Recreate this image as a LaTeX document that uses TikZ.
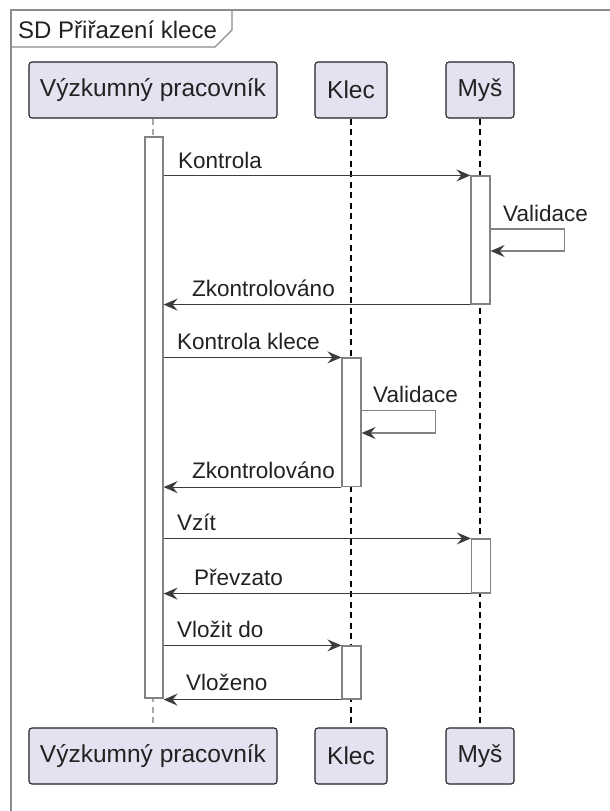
\documentclass[tikz,border=0pt]{standalone}
\usepackage{fontspec}
\setmainfont{Liberation Sans}
\usetikzlibrary{arrows.meta}
\definecolor{partfill}{RGB}{226,226,240}
\definecolor{txt}{RGB}{34,34,34}
\definecolor{msgline}{RGB}{60,60,60}
\definecolor{actline}{RGB}{130,130,130}
\definecolor{framecol}{RGB}{140,140,140}
\tikzset{
  part/.style={draw=txt, fill=partfill, rounded corners=3pt, line width=1.1pt,
    minimum height=56pt, inner sep=0pt, text=txt, font=\fontsize{24.5}{28}\selectfont},
  actbar/.style={draw=actline, fill=white, line width=1.2pt, minimum width=18pt, inner sep=0pt},
  msg/.style={draw=msgline, line width=1.2pt, -{Stealth[length=14pt,width=12pt,inset=5pt]}},
  selfmsg/.style={draw=actline, line width=1.2pt, -{Stealth[length=14pt,width=12pt,inset=5pt,color=msgline]}},
  lbl/.style={text=txt, font=\fontsize{22.5}{26}\selectfont, inner sep=0pt, anchor=base west},
  life/.style={draw=black, line width=1.2pt, dash pattern=on 6pt off 4.5pt},
  lifeg/.style={draw=actline!70, line width=1.2pt, dash pattern=on 6pt off 4.5pt},
}
\begin{document}
\begin{tikzpicture}[x=1pt,y=-1pt]
\useasboundingbox (0,0) rectangle (610,811);
\clip (0,0) rectangle (610,811);
\fill[white] (0,0) rectangle (610,811);
% frame
\draw[framecol, line width=1.5pt] (11,830) -- (11,10) -- (625,10);
\draw[framecol, line width=1.2pt] (11,47) -- (215,47) -- (232,30) -- (232,10);
\node[lbl, font=\fontsize{24}{28}\selectfont] (title) at (18,38) {SD Přiřazení klece};
% participants
\node[part, minimum width=248pt] (vT) at (153,90) {Výzkumný pracovník};
\node[part, minimum width=72pt] (kT) at (351,90) {Klec};
\node[part, minimum width=68pt] (mT) at (480,90) {Myš};
\node[part, minimum width=248pt] (vB) at (153,756) {Výzkumný pracovník};
\node[part, minimum width=72pt] (kB) at (351,756) {Klec};
\node[part, minimum width=68pt] (mB) at (480,756) {Myš};
% lifelines
\draw[lifeg] (vT.south) -- (vB.north);
\draw[life] (kT.south) -- (kB.north);
\draw[life] (mT.south) -- (mB.north);
% activation bars
\node[actbar, minimum height=561pt] (aV) at (154,417.5) {};
\node[actbar, minimum height=128pt, minimum width=19pt] (aM1) at (480.5,240) {};
\node[actbar, minimum height=128.5pt, minimum width=19pt] (aK1) at (351.5,422.25) {};
\node[actbar, minimum height=54pt, minimum width=19pt] (aM2) at (481,566) {};
\node[actbar, minimum height=53pt, minimum width=19pt] (aK2) at (351.5,672.5) {};
% messages
\draw[msg] (aV.east |- aM1.north) -- (aM1.north west);
\node[lbl] (l1) at (178,168) {Kontrola};
\coordinate (s1a) at ([yshift=11pt]aM1.east);
\coordinate (s1b) at ([yshift=-11pt]aM1.east);
\draw[selfmsg] (s1a) -- ++(74,0) |- (s1b);
\node[lbl] (l2) at (503,221) {Validace};
\draw[msg] (aM1.south west) -- (aV.east |- aM1.south);
\node[lbl] (l3) at (192,296) {Zkontrolováno};
\draw[msg] (aV.east |- aK1.north) -- (aK1.north west);
\node[lbl] (l4) at (177,349) {Kontrola klece};
\coordinate (s2a) at ([yshift=11.5pt]aK1.east);
\coordinate (s2b) at ([yshift=-10.75pt]aK1.east);
\draw[selfmsg] (s2a) -- ++(74,0) |- (s2b);
\node[lbl] (l5) at (373,402) {Validace};
\draw[msg] (aK1.south west) -- (aV.east |- aK1.south);
\node[lbl] (l6) at (192,478) {Zkontrolováno};
\draw[msg] (aV.east |- aM2.north) -- (aM2.north west);
\node[lbl] (l7) at (177,530) {Vzít};
\draw[msg] (aM2.south west) -- (aV.east |- aM2.south);
\node[lbl] (l8) at (194,585) {Převzato};
\draw[msg] (aV.east |- aK2.north) -- (aK2.north west);
\node[lbl] (l9) at (177,637) {Vložit do};
\draw[msg] (aK2.south west) -- (aV.east |- aK2.south);
\node[lbl] (l10) at (186,690) {Vloženo};
\end{tikzpicture}
\end{document}
